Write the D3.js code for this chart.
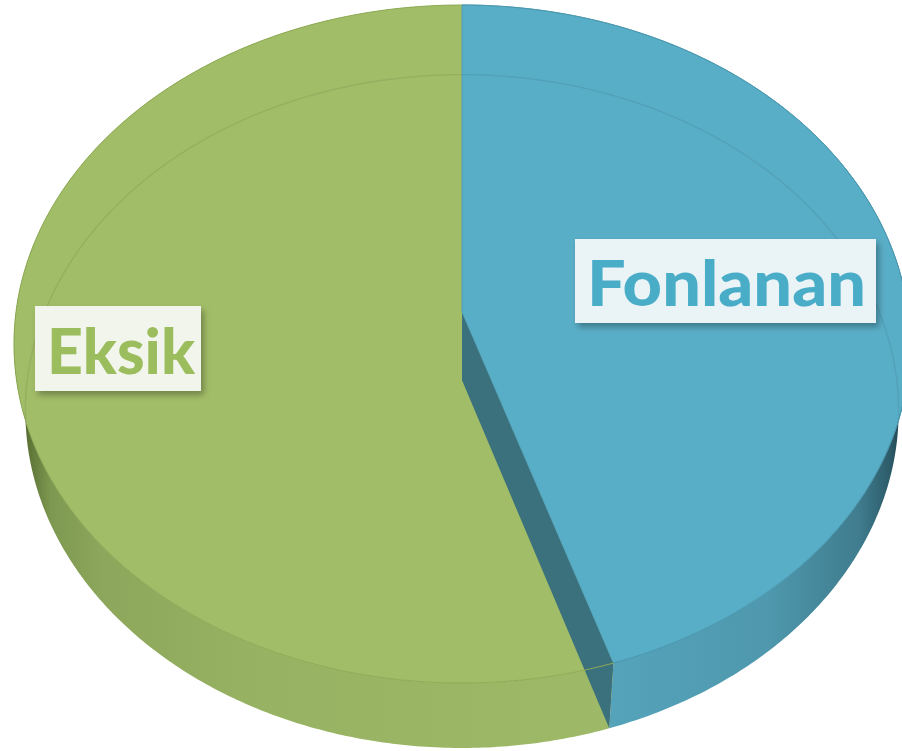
<!DOCTYPE html>
<html>
<head>
<meta charset="utf-8">
<script src="https://cdn.jsdelivr.net/npm/d3@7"></script>
<style>
html,body{margin:0;padding:0;background:#fff;}
svg{display:block;}
</style>
</head>
<body>
<svg id="chart" width="902" height="751"></svg>
<script>
// ---- data ----
const categories = ["Fonlanan", "Eksik"];
const values = [45, 55];
const topColors = ["#59aec7", "#a2bd68"];
const textColors = ["#4aadc8", "#9cbd5e"];
const boxFills = ["#eaf4f7", "#f2f5ec"];

// ---- layout / projection ----
const W = 902, H = 751;
const cx = 462, cy = 312, K = 3107, D = 6.966, S = 0.7533, C = 0.6576, DEPTH = 0.239;
function proj(a, r, w) {
  const u = r * Math.sin(a), v = r * Math.cos(a);
  const Y = v * S + w * C, Z = v * C - w * S;
  const den = D + Z;
  return [cx + K * u / den, cy - K * Y / den];
}
function arcPts(a0, a1, r, w) {
  const n = Math.max(8, Math.ceil(Math.abs(a1 - a0) / 0.01));
  return d3.range(n + 1).map(i => proj(a0 + (a1 - a0) * i / n, r, w));
}
const line = d3.line();

const svg = d3.select("#chart");
const defs = svg.append("defs");

// wall gradients (horizontal shading)
const gG = defs.append("linearGradient").attr("id", "wallG")
  .attr("gradientUnits", "userSpaceOnUse").attr("x1", 14).attr("x2", 620).attr("y1", 0).attr("y2", 0);
[[0, "#2c3818"], [0.02, "#5a7034"], [0.06, "#7d9850"], [0.14, "#8ca75b"], [0.4, "#97b262"], [1, "#9eb967"]]
  .forEach(([o, c]) => gG.append("stop").attr("offset", o).attr("stop-color", c));
const gB = defs.append("linearGradient").attr("id", "wallB")
  .attr("gradientUnits", "userSpaceOnUse").attr("x1", 600).attr("x2", 905).attr("y1", 0).attr("y2", 0);
[[0, "#55a4bb"], [0.55, "#4f98ad"], [0.85, "#3f7c8e"], [0.95, "#2d5c6a"], [1, "#1f3f49"]]
  .forEach(([o, c]) => gB.append("stop").attr("offset", o).attr("stop-color", c));

const shadow = defs.append("filter").attr("id", "shadow")
  .attr("x", "-20%").attr("y", "-20%").attr("width", "150%").attr("height", "160%");
shadow.append("feDropShadow").attr("dx", 3).attr("dy", 4).attr("stdDeviation", 3)
  .attr("flood-color", "#000").attr("flood-opacity", 0.3);

const pie = d3.pie().sort(null).value(d => d)(values);

const g = svg.append("g");

// outer walls
const wallFills = ["url(#wallB)", "url(#wallG)"];
pie.forEach((p, i) => {
  const topArc = arcPts(p.startAngle, p.endAngle, 1, 0);
  const botArc = arcPts(p.startAngle, p.endAngle, 1, -DEPTH).reverse();
  g.append("path").attr("d", line(topArc.concat(botArc)) + "Z")
    .attr("fill", wallFills[i]);
});

// top faces
function topFace(p) {
  return line([proj(0, 0, 0)].concat(arcPts(p.startAngle, p.endAngle, 1, 0))) + "Z";
}
// green (second) top face first
g.append("path").attr("d", topFace(pie[1])).attr("fill", topColors[1]);

// cut face of first slice at its end angle
const ea = pie[0].endAngle;
const cut = [proj(ea, 0, 0), proj(ea, 1, 0), proj(ea, 1, -DEPTH), proj(ea, 0, -DEPTH)];
g.append("path").attr("d", line(cut) + "Z").attr("fill", "#3b717d");

// blue top face
g.append("path").attr("d", topFace(pie[0])).attr("fill", topColors[0])
  .attr("stroke", "#4a9ab2").attr("stroke-width", 0.8);

// rim line along front of top face (subtle)
pie.forEach((p, i) => {
  g.append("path").attr("d", line(arcPts(p.startAngle, p.endAngle, 1, 0)))
    .attr("fill", "none").attr("stroke", i === 0 ? "#4b98af" : "#8daa55").attr("stroke-width", 1);
});

// faint bottom-face outline seen through top face
defs.append("clipPath").attr("id", "topClip").append("path")
  .attr("d", line(arcPts(0, 2 * Math.PI, 1, 0)) + "Z");
g.append("path").attr("d", line(arcPts(0, 2 * Math.PI, 1, -DEPTH)) + "Z")
  .attr("clip-path", "url(#topClip)")
  .attr("fill", "none").attr("stroke", "rgba(0,0,0,0.07)").attr("stroke-width", 1.5);

// ---- labels ----
const labelBoxes = [
  { x: 575, y: 239, w: 301, h: 84, tx: 587, tw: 279, ty: 306 },
  { x: 35, y: 306, w: 166, h: 85, tx: 47, tw: 148, ty: 374 }
];
categories.forEach((name, i) => {
  const b = labelBoxes[i];
  const lg = svg.append("g");
  lg.append("rect").attr("x", b.x).attr("y", b.y).attr("width", b.w).attr("height", b.h)
    .attr("fill", boxFills[i]).attr("filter", "url(#shadow)");
  lg.append("text").attr("x", b.tx).attr("y", b.ty)
    .attr("font-family", "Lato, 'Open Sans', sans-serif").attr("font-weight", 900)
    .attr("font-size", 62).attr("fill", textColors[i])
    .attr("textLength", b.tw).attr("lengthAdjust", "spacingAndGlyphs")
    .text(name);
});
</script>
</body>
</html>
